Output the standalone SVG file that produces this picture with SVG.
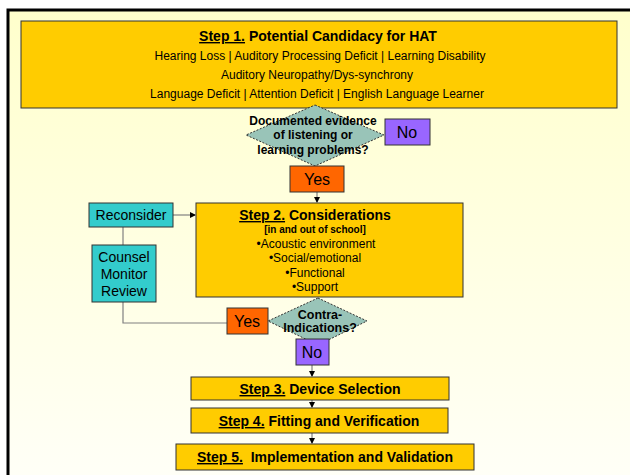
<svg xmlns="http://www.w3.org/2000/svg" width="630" height="475" viewBox="0 0 630 475">
<defs>
<linearGradient id="bg" x1="0" y1="0" x2="0" y2="1">
<stop offset="0" stop-color="#FFFFCC"/>
<stop offset="1" stop-color="#FFFFF8"/>
</linearGradient>
<marker id="ah" markerWidth="6" markerHeight="6" refX="5" refY="3" orient="auto" markerUnits="userSpaceOnUse">
<path d="M0,0 L6,3 L0,6 z" fill="#000"/>
</marker>
<style>
text{font-family:"Liberation Sans",Arial,sans-serif;fill:#000;text-anchor:middle}
.step{fill:#FFCC00;stroke:#333;stroke-width:1}
.dia{fill:#99C4B8;stroke:#333;stroke-width:1;stroke-dasharray:2,1.5}
.no{fill:#9966FF;stroke:#333;stroke-width:1}
.yes{fill:#FF6600;stroke:#333;stroke-width:1}
.cyan{fill:#33CCCC;stroke:#333;stroke-width:1}
.b14{font-size:14px;font-weight:bold}
.r12{font-size:12px}
.b12{font-size:12px;font-weight:bold}
.yn{font-size:16px}
.c14{font-size:14px}
.u{text-decoration:underline}
.con{fill:none;stroke:#808080;stroke-width:1.2}
</style>
</defs>
<rect x="0" y="0" width="630" height="475" fill="#FFFFFF"/>
<rect x="8" y="10" width="640" height="480" fill="url(#bg)" stroke="#000" stroke-width="3"/>

<g id="connectors">
<line class="con" x1="317" y1="192" x2="317" y2="202" marker-end="url(#ah)"/>
<line class="con" x1="173" y1="215" x2="195" y2="215" marker-end="url(#ah)"/>
<line class="con" x1="123" y1="227" x2="123" y2="245"/>
<polyline class="con" points="123,302 123,323 227,323"/>
<line class="con" x1="312" y1="365" x2="312" y2="376" marker-end="url(#ah)"/>
<line class="con" x1="312" y1="400" x2="312" y2="407" marker-end="url(#ah)"/>
<line class="con" x1="312" y1="433" x2="312" y2="443" marker-end="url(#ah)"/>
</g>

<g id="step1">
<rect class="step" x="21" y="21" width="596" height="87"/>
<text class="b14" x="318" y="41"><tspan class="u">Step 1.</tspan> Potential Candidacy for HAT</text>
<text class="r12" x="320" y="60">Hearing Loss | Auditory Processing Deficit | Learning Disability</text>
<text class="r12" x="317" y="79">Auditory Neuropathy/Dys-synchrony</text>
<text class="r12" x="317" y="98">Language Deficit | Attention Deficit | English Language Learner</text>
</g>

<g id="decision1">
<polygon class="dia" points="315,105 384,135 315,166 246,135"/>
<text class="b12" x="313" y="125">Documented evidence</text>
<text class="b12" x="313" y="139">of listening or</text>
<text class="b12" x="313" y="154">learning problems?</text>
</g>

<g id="no1">
<rect class="no" x="385" y="119" width="45" height="26"/>
<text class="yn" x="407" y="138">No</text>
</g>

<g id="yes1">
<rect class="yes" x="290" y="166" width="54" height="26"/>
<text class="yn" x="317" y="185">Yes</text>
</g>

<g id="reconsider">
<rect class="cyan" x="89" y="203" width="84" height="24"/>
<text class="c14" x="131" y="220">Reconsider</text>
</g>

<g id="counsel">
<rect class="cyan" x="92" y="245" width="64" height="57"/>
<text class="c14" x="124" y="262">Counsel</text>
<text class="c14" x="124" y="279">Monitor</text>
<text class="c14" x="124" y="296">Review</text>
</g>

<g id="step2">
<rect class="step" x="196" y="203" width="267" height="94"/>
<text class="b14" x="315" y="220"><tspan class="u">Step 2.</tspan> Considerations</text>
<text x="315" y="233" style="font-size:10px;font-weight:bold">[in and out of school]</text>
<text class="r12" x="316" y="248">•Acoustic environment</text>
<text class="r12" x="315" y="262">•Social/emotional</text>
<text class="r12" x="315" y="277">•Functional</text>
<text class="r12" x="315" y="291">•Support</text>
</g>

<g id="decision2">
<polygon class="dia" points="318,298 367,321 318,345 268,321"/>
<text x="320" y="319" style="font-size:12.5px;font-weight:bold">Contra-</text>
<text x="320" y="332" style="font-size:12.5px;font-weight:bold">Indications?</text>
</g>

<g id="yes2">
<rect class="yes" x="227" y="308" width="41" height="26"/>
<text class="yn" x="247" y="327">Yes</text>
</g>

<g id="no2">
<rect class="no" x="296" y="339" width="33" height="26"/>
<text class="yn" x="312" y="358">No</text>
</g>

<g id="step3">
<rect class="step" x="191" y="377" width="258" height="23"/>
<text class="b14" x="320" y="394"><tspan class="u">Step 3.</tspan> Device Selection</text>
</g>

<g id="step4">
<rect class="step" x="191" y="408" width="257" height="25"/>
<text class="b14" x="319" y="426"><tspan class="u">Step 4.</tspan> Fitting and Verification</text>
</g>

<g id="step5">
<rect class="step" x="176" y="444" width="298" height="26"/>
<text class="b14" x="325" y="462" xml:space="preserve"><tspan class="u">Step 5.</tspan>  Implementation and Validation</text>
</g>
</svg>
